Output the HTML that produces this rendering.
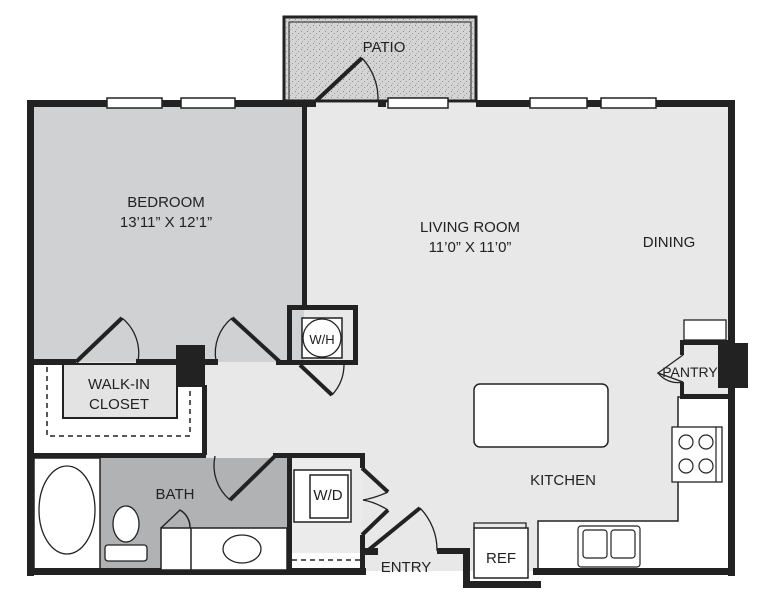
<!DOCTYPE html>
<html><head><meta charset="utf-8"><style>
html,body{margin:0;padding:0;background:#fff;}
svg{display:block;}
text{font-family:"Liberation Sans",sans-serif;fill:#222;}
</style></head><body>
<svg width="774" height="600" viewBox="0 0 774 600" xmlns="http://www.w3.org/2000/svg">
<defs>
<pattern id="st" width="6" height="6" patternUnits="userSpaceOnUse">
<rect width="6" height="6" fill="#d4d4d4"/>
<rect x="1" y="1" width="1" height="1" fill="#888"/><rect x="4" y="3" width="1" height="1" fill="#999"/><rect x="2" y="5" width="1" height="1" fill="#aaa"/>
</pattern>
</defs>
<rect x="284" y="17" width="192" height="84" fill="url(#st)" stroke="#222" stroke-width="3"/>
<rect x="289" y="22" width="182" height="79" fill="none" stroke="#222" stroke-width="1"/>
<rect x="30" y="103" width="700" height="468" fill="#e8e8e8"/>
<rect x="34" y="106" width="270" height="256" fill="#cfd1d3"/>
<rect x="34" y="364" width="170" height="90" fill="#fff"/>
<rect x="63" y="364" width="114" height="54" fill="#e3e3e3" stroke="#222" stroke-width="2"/>
<path d="M47 367 V436 H190 V387" fill="none" stroke="#222" stroke-width="1.5" stroke-dasharray="5,4"/>
<rect x="100" y="458" width="188" height="112" fill="#b0b2b4"/>
<rect x="34" y="458" width="66" height="112" fill="#fff" stroke="#222" stroke-width="1.5"/>
<rect x="292" y="458" width="70" height="112" fill="#ebebeb"/>
<rect x="292" y="553" width="70" height="17" fill="#fff"/>
<path d="M292 560 H360" stroke="#222" stroke-width="1.5" stroke-dasharray="5,4"/>
<path d="M678 397 V521 H538 V571 H730 V397 Z" fill="#fff" stroke="#222" stroke-width="1.5"/>
<g fill="#222">
<rect x="27" y="100" width="257" height="7"/>
<rect x="476" y="100" width="259" height="7"/>
<rect x="284" y="100" width="32" height="7"/>
<rect x="378" y="100" width="8" height="7"/>
<rect x="27" y="100" width="7" height="476"/>
<rect x="728" y="100" width="7" height="476"/>
<rect x="27" y="568" width="339" height="7"/>
<rect x="302" y="106" width="5" height="200"/>
<rect x="34" y="359" width="42" height="6"/>
<rect x="136" y="359" width="82" height="6"/>
<rect x="176" y="345" width="29" height="42"/>
<rect x="202" y="385" width="5" height="70"/>
<rect x="34" y="453" width="172" height="5"/>
<rect x="273" y="453" width="89" height="5"/>
<rect x="287" y="453" width="5" height="118"/>
<rect x="360" y="453" width="5" height="15"/>
<rect x="360" y="535" width="5" height="40"/>
<rect x="360" y="548" width="18" height="7"/>
<rect x="437" y="548" width="30" height="6"/>
<rect x="463" y="548" width="7" height="40"/>
<rect x="463" y="581" width="78" height="7"/>
<rect x="533" y="568" width="200" height="7"/>
<rect x="287" y="305" width="71" height="5"/>
<rect x="287" y="305" width="5" height="60"/>
<rect x="353" y="305" width="5" height="60"/>
<rect x="276" y="360" width="82" height="5"/>
<rect x="680" y="340" width="50" height="5"/>
<rect x="680" y="394" width="50" height="5"/>
<rect x="680" y="340" width="4" height="15"/>
<rect x="680" y="382" width="4" height="15"/>
<rect x="718" y="343" width="30" height="45"/>
</g>
<g fill="#fff" stroke="#222" stroke-width="1.5">
<rect x="107" y="98" width="55" height="10"/>
<rect x="181" y="98" width="54" height="10"/>
<rect x="388" y="98" width="60" height="10"/>
<rect x="530" y="98" width="57" height="10"/>
<rect x="601" y="98" width="55" height="10"/>
</g>
<g fill="none" stroke="#222" stroke-width="4">
<path d="M316 101 L362 58"/>
<path d="M76 362 L122 318"/>
<path d="M280 362 L232 318"/>
<path d="M300 365 L332 395"/>
<path d="M275 456 L230 500"/>
<path d="M366 552 L420 508"/>
<path d="M362 468 L388 492"/>
<path d="M362 535 L388 510"/>
</g>
<g fill="none" stroke="#222" stroke-width="1.3">
<path d="M388 492 Q375 498 363 500"/>
<path d="M388 510 Q375 502 363 500"/>
<path d="M362 58 A60 60 0 0 1 378 101"/>
<path d="M122 318 A45 45 0 0 1 138 361"/>
<path d="M232 318 A45 45 0 0 0 216 361"/>
<path d="M332 395 A45 45 0 0 0 344 365"/>
<path d="M230 500 A45 45 0 0 1 215 456"/>
<path d="M420 508 A60 60 0 0 1 437 551"/>
<path d="M683 355 L658 373 L683 382"/>
<path d="M658 373 A25 25 0 0 0 683 382"/>
<rect x="684" y="320" width="42" height="20" fill="#fff"/>
</g>
<rect x="302" y="318" width="40" height="40" fill="#fff" stroke="#222" stroke-width="1.5"/>
<circle cx="322" cy="338" r="19" fill="#fff" stroke="#222" stroke-width="1.3"/>
<ellipse cx="67" cy="510" rx="28" ry="44" fill="#fff" stroke="#222" stroke-width="1.3"/>
<ellipse cx="126" cy="524" rx="13" ry="18" fill="#fff" stroke="#222" stroke-width="1.3"/>
<rect x="105" y="545" width="42" height="16" rx="3" fill="#fff" stroke="#222" stroke-width="1.3"/>
<rect x="161" y="528" width="126" height="42" fill="#fff" stroke="#222" stroke-width="1.5"/>
<path d="M191 528 V570 M161 528 L180 510 A20 20 0 0 1 190 528" fill="none" stroke="#222" stroke-width="1.5"/>
<ellipse cx="242" cy="549" rx="19" ry="14" fill="#fff" stroke="#222" stroke-width="1.3"/>
<rect x="294" y="470" width="57" height="52" fill="#fff" stroke="#222" stroke-width="1.5"/>
<rect x="310" y="475" width="38" height="43" fill="#fff" stroke="#222" stroke-width="1.5"/>
<rect x="474" y="384" width="134" height="63" rx="6" fill="#fff" stroke="#222" stroke-width="1.5"/>
<rect x="672" y="427" width="50" height="55" fill="#fff" stroke="#222" stroke-width="1.3"/>
<g fill="none" stroke="#222" stroke-width="1.2">
<circle cx="686" cy="442" r="7"/><circle cx="706" cy="442" r="7"/>
<circle cx="686" cy="466" r="7"/><circle cx="706" cy="466" r="7"/>
<path d="M716 427 V482"/>
<rect x="578" y="526" width="62" height="41" rx="3"/>
<rect x="583" y="530" width="24" height="28" rx="3"/>
<rect x="611" y="530" width="24" height="28" rx="3"/>
</g>
<rect x="474" y="528" width="54" height="50" fill="#fff" stroke="#222" stroke-width="1.5"/>
<path d="M474 528 V523 H526 V528" fill="none" stroke="#222" stroke-width="1.3"/>
<g font-size="15" text-anchor="middle">
<text x="384" y="52">PATIO</text>
<text x="166" y="207">BEDROOM</text>
<text x="166" y="227">13’11” X 12’1”</text>
<text x="470" y="232">LIVING ROOM</text>
<text x="470" y="252">11’0” X 11’0”</text>
<text x="669" y="247">DINING</text>
<text x="322" y="344" font-size="13">W/H</text>
<text x="119" y="389">WALK-IN</text>
<text x="119" y="409">CLOSET</text>
<text x="175" y="499">BATH</text>
<text x="328" y="500">W/D</text>
<text x="563" y="485">KITCHEN</text>
<text x="690" y="377" font-size="14">PANTRY</text>
<text x="406" y="572">ENTRY</text>
<text x="501" y="563">REF</text>
</g>
</svg>
</body></html>
